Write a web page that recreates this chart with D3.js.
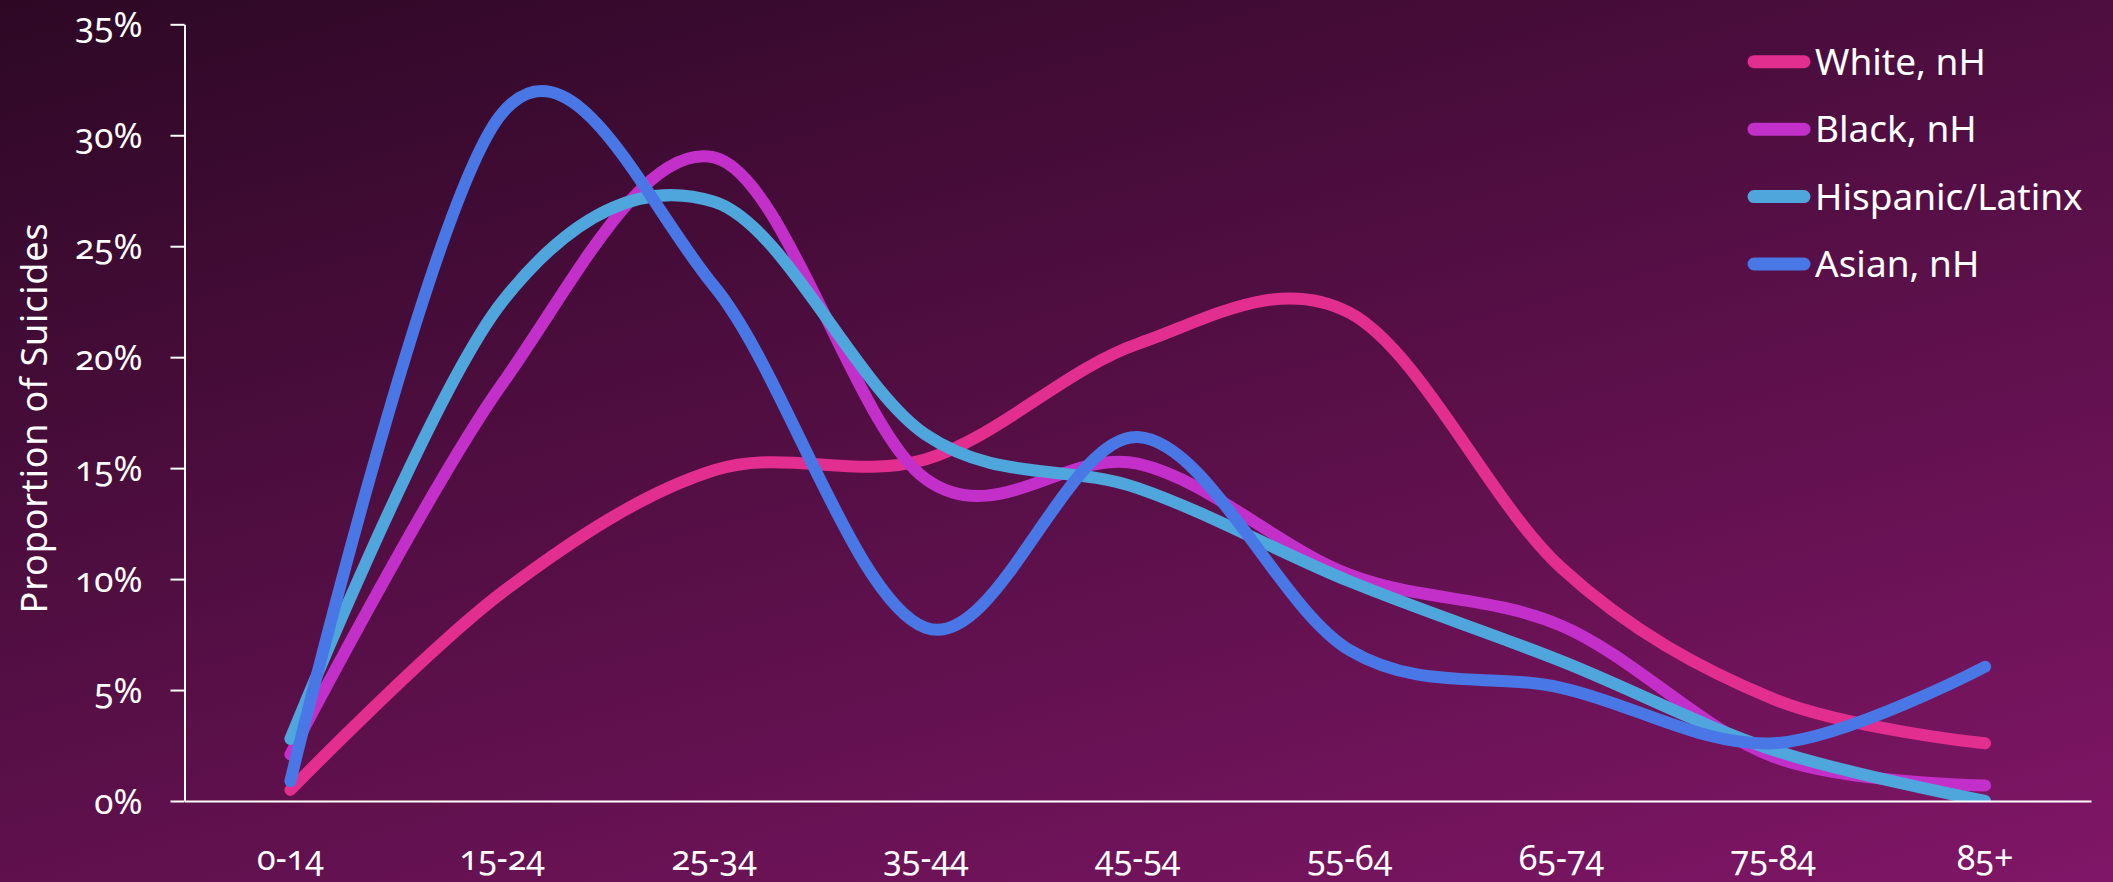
<!DOCTYPE html>
<html>
<head>
<meta charset="utf-8">
<script src="https://cdn.jsdelivr.net/npm/d3@7"></script>
<style>
  html, body { margin: 0; padding: 0; background: #3a0a2e; }
  svg { display: block; }
  text { font-family: "Noto Sans", "Open Sans", sans-serif; fill: #ffffff; }
  .num { font-variant-numeric: oldstyle-nums; font-feature-settings: "onum" 1; }
</style>
</head>
<body>
<svg id="chart" width="2113" height="882"></svg>
<script>
// ---- data ----
const categories = ["0-14", "15-24", "25-34", "35-44", "45-54", "55-64", "65-74", "75-84", "85+"];
const seriesNames = ["White, nH", "Black, nH", "Hispanic/Latinx", "Asian, nH"];
const whiteValues    = [0.5, 9.4, 14.9, 15.4, 20.6, 22.0, 10.5, 4.6, 2.6];
const blackValues    = [2.1, 18.8, 29.0, 14.5, 15.2, 10.2, 7.9, 2.0, 0.7];
const hispanicValues = [2.8, 22.5, 27.0, 16.5, 14.1, 9.9, 6.3, 2.3, 0.0];
const asianValues    = [0.9, 31.0, 23.2, 7.8, 16.4, 6.8, 5.1, 2.6, 6.05];
const yTickValues    = [0, 5, 10, 15, 20, 25, 30, 35];
const yAxisTitle = "Proportion of Suicides";

const seriesColors = ["#E22E8F", "#C32FC9", "#4EA6DC", "#4A77E6"];
const seriesValues = [whiteValues, blackValues, hispanicValues, asianValues];

// ---- layout ----
const W = 2113, H = 882;
const plotLeft = 184.5, plotRight = 2091, plotTop = 24.3, plotBottom = 801;

const svg = d3.select("#chart");
const defs = svg.append("defs");

const grad = defs.append("linearGradient")
  .attr("id", "bg").attr("gradientUnits", "userSpaceOnUse")
  .attr("x1", 0).attr("y1", 0).attr("x2", 368).attr("y2", 1356);
grad.append("stop").attr("offset", 0).attr("stop-color", "#2D0825");
grad.append("stop").attr("offset", 1).attr("stop-color", "#801667");

svg.append("rect").attr("width", W).attr("height", H).attr("fill", "url(#bg)");

defs.append("clipPath").attr("id", "plotClip")
  .append("rect").attr("x", 0).attr("y", 0).attr("width", W).attr("height", plotBottom);

const x = d3.scaleBand().domain(categories).range([plotLeft, plotRight]);
const y = d3.scaleLinear().domain([0, 35]).range([plotBottom, plotTop]);
const cx = c => x(c) + x.bandwidth() / 2;

// ---- lines ----
const line = d3.line()
  .x((d, i) => cx(categories[i]))
  .y(d => y(d))
  .curve(d3.curveCardinal.tension(0));

const lines = svg.append("g").attr("clip-path", "url(#plotClip)");
seriesValues.forEach((vals, k) => {
  lines.append("path")
    .attr("d", line(vals))
    .attr("fill", "none")
    .attr("stroke", seriesColors[k])
    .attr("stroke-width", 12)
    .attr("stroke-linecap", "round")
    .attr("stroke-linejoin", "round");
});

// ---- y axis ----
const yAxis = svg.append("g")
  .attr("transform", `translate(${plotLeft},0)`)
  .call(d3.axisLeft(y).tickValues(yTickValues).tickFormat(d => d + "%")
    .tickSize(14).tickSizeOuter(0).tickPadding(28));
yAxis.select(".domain").attr("stroke", "#ffffff").attr("stroke-width", 2);
yAxis.selectAll(".tick line").attr("stroke", "#ffffff").attr("stroke-width", 2);
yAxis.selectAll(".tick text")
  .attr("class", "num")
  .attr("fill", "#ffffff")
  .attr("font-size", 35)
  .attr("font-family", "'Noto Sans', sans-serif")
  .attr("dy", "0.36em");

// ---- x axis ----
const xAxis = svg.append("g")
  .attr("transform", `translate(0,${plotBottom})`)
  .call(d3.axisBottom(x).tickSize(0).tickSizeOuter(0).tickPadding(0));
xAxis.select(".domain").attr("stroke", "#ffffff").attr("stroke-width", 2);
xAxis.selectAll(".tick text")
  .attr("class", "num")
  .attr("fill", "#ffffff")
  .attr("font-size", 34)
  .attr("font-family", "'Noto Sans', sans-serif")
  .attr("y", 69).attr("dy", 0);

// ---- y axis title ----
svg.append("text")
  .attr("transform", "translate(47,418) rotate(-90)")
  .attr("text-anchor", "middle")
  .attr("font-size", 36)
  .attr("letter-spacing", 0.8)
  .text(yAxisTitle);

// ---- legend ----
const legendY = d3.scalePoint().domain(seriesNames).range([61.7, 264]);
const legend = svg.append("g");
seriesNames.forEach((name, k) => {
  const ly = legendY(name);
  legend.append("line")
    .attr("x1", 1754).attr("x2", 1804).attr("y1", ly).attr("y2", ly)
    .attr("stroke", seriesColors[k]).attr("stroke-width", 13)
    .attr("stroke-linecap", "round");
  legend.append("text")
    .attr("x", 1815).attr("y", ly).attr("dy", "0.36em")
    .attr("font-size", 37)
    .text(name);
});
</script>
</body>
</html>
